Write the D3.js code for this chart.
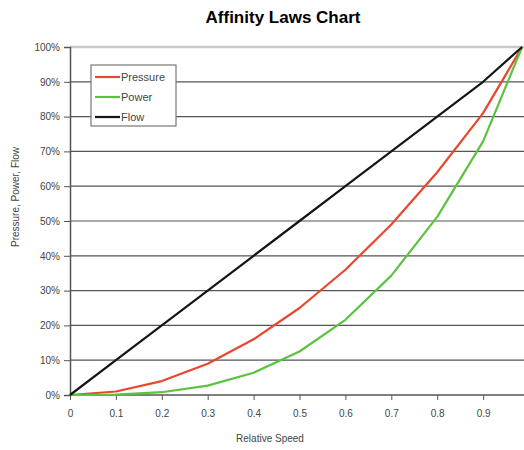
<!DOCTYPE html>
<html>
<head>
<meta charset="utf-8">
<script src="https://cdn.jsdelivr.net/npm/d3@7"></script>
<style>
  body { margin: 0; background: #fff; }
  text { font-family: "Liberation Sans", Arial, sans-serif; }
</style>
</head>
<body>
<div id="chart"></div>
<script>
// values (last point sits at the right edge of the plot)
var speed    = [0, 0.1, 0.2, 0.3, 0.4, 0.5, 0.6, 0.7, 0.8, 0.9, 0.985];
var pressure = [0, 1, 4, 9, 16, 25, 36, 49, 64, 81, 100];
var power    = [0, 0.1, 0.8, 2.7, 6.4, 12.5, 21.6, 34.3, 51.2, 72.9, 100];
var flow     = [0, 10, 20, 30, 40, 50, 60, 70, 80, 90, 100];
var xTicks = [0, 0.1, 0.2, 0.3, 0.4, 0.5, 0.6, 0.7, 0.8, 0.9];
var yTicks = [0, 10, 20, 30, 40, 50, 60, 70, 80, 90, 100];
var seriesNames = ["Pressure", "Power", "Flow"];
var seriesColors = ["#e8462e", "#5cc23f", "#151515"];

var W = 524, H = 450;
var svg = d3.select("#chart").append("svg")
  .attr("width", W).attr("height", H);

var x = d3.scaleLinear().domain([0, 1]).range([70, 529]);
var y = d3.scaleLinear().domain([0, 100]).range([395, 47]);

// title
svg.append("text")
  .attr("x", 283).attr("y", 23)
  .attr("text-anchor", "middle")
  .style("font-size", "17px").style("font-weight", "bold")
  .text("Affinity Laws Chart");

// gridlines
svg.append("g").selectAll("line")
  .data(yTicks.slice(1))
  .enter().append("line")
    .attr("x1", 70).attr("x2", W)
    .attr("y1", function(d) { return y(d); })
    .attr("y2", function(d) { return y(d); })
    .attr("stroke", function(d) { return d == 100 ? "#c8c8c8" : "#555"; })
    .attr("stroke-width", function(d) { return d == 100 ? 2.5 : 1.2; });

// y axis
var yAxis = svg.append("g")
  .attr("transform", "translate(70,0)")
  .call(d3.axisLeft(y).tickValues(yTicks).tickSize(6).tickPadding(4)
    .tickFormat(function(d) { return d + "%"; }));
yAxis.select(".domain").attr("stroke", "#555").attr("stroke-width", 1.5);
yAxis.selectAll(".tick line").attr("stroke", "#555");
yAxis.selectAll("text").style("font-size", "10px").attr("fill", "#444")
  .style("font-family", "'Liberation Sans', Arial, sans-serif");

// x axis
var xAxis = svg.append("g")
  .attr("transform", "translate(0,395)")
  .call(d3.axisBottom(x).tickValues(xTicks).tickSize(5).tickPadding(10)
    .tickFormat(function(d) { return d; }));
xAxis.select(".domain").remove();
svg.append("line")
  .attr("x1", 70).attr("x2", W).attr("y1", 395).attr("y2", 395)
  .attr("stroke", "#555").attr("stroke-width", 1.5);
xAxis.selectAll(".tick line").attr("stroke", "#555");
xAxis.selectAll("text").style("font-size", "10px").attr("fill", "#444")
  .style("font-family", "'Liberation Sans', Arial, sans-serif");

// axis labels
svg.append("text")
  .attr("x", 270).attr("y", 442)
  .attr("text-anchor", "middle")
  .style("font-size", "10px").attr("fill", "#444")
  .text("Relative Speed");
svg.append("text")
  .attr("transform", "translate(19,197) rotate(-90)")
  .attr("text-anchor", "middle")
  .style("font-size", "10px").attr("fill", "#444")
  .text("Pressure, Power, Flow");

// lines
var line = d3.line()
  .x(function(d, i) { return x(speed[i]); })
  .y(function(d) { return y(d); });

[pressure, power, flow].forEach(function(vals, i) {
  svg.append("path")
    .datum(vals)
    .attr("fill", "none")
    .attr("stroke", seriesColors[i])
    .attr("stroke-width", 2.2)
    .attr("stroke-linejoin", "round")
    .attr("d", line);
});

// legend
var legend = svg.append("g");
legend.append("rect")
  .attr("x", 91).attr("y", 65).attr("width", 85).attr("height", 61)
  .attr("fill", "#fff").attr("stroke", "#777").attr("stroke-width", 1.2);
seriesNames.forEach(function(name, i) {
  var ly = 77 + i * 20;
  legend.append("line")
    .attr("x1", 95).attr("x2", 120).attr("y1", ly).attr("y2", ly)
    .attr("stroke", seriesColors[i]).attr("stroke-width", 2.2);
  legend.append("text")
    .attr("x", 121).attr("y", ly + 4)
    .style("font-size", "11px").attr("fill", "#444")
    .text(name);
});
</script>
</body>
</html>
